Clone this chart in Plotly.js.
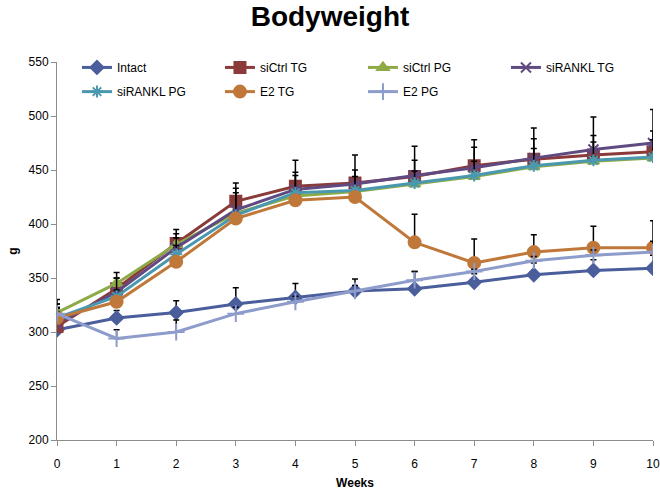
<!DOCTYPE html>
<html>
<head>
<meta charset="utf-8">
<script src="https://cdn.plot.ly/plotly-3.0.1.min.js"></script>
<style>html,body{margin:0;padding:0;background:#fff;}#chart{width:660px;height:494px;}</style>
</head>
<body>
<div id="chart"></div>
<script>
const weeks = [0,1,2,3,4,5,6,7,8,9,10];

const seriesNames = ["Intact","siCtrl TG","siCtrl PG","siRANKL TG","siRANKL PG","E2 TG","E2 PG"];

const intact      = [302,313,318,326,332,338,340,346,353,357,359];
const siCtrlTG    = [305,340,382,421,435,438,444,454,460,464,467];
const siCtrlPG    = [318,345,381,410,426,430,437,444,453,458,461];
const siRanklTG   = [308,337,378,413,432,437,445,452,461,469,475];
const siRanklPG   = [313,333,372,408,429,431,438,445,454,459,462];
const e2TG        = [313,328,365,405,422,425,383,364,374,378,378];
const e2PG        = [317,294,300,317,328,338,348,356,366,371,374];

const intactErr    = [6,7,11,15,13,11,16,8,11,10,12];
const siCtrlTGErr  = [25,15,13,17,24,26,28,24,29,18,19];
const siCtrlPGErr  = [8,5,6,4,4,4,4,4,4,4,4];
const siRanklTGErr = [18,13,13,20,16,13,14,19,18,30,31];
const siRanklPGErr = [10,6,8,21,16,13,11,13,16,17,16];
const e2TGErr      = [6,4,5,4,4,4,26,22,16,20,25];
const e2PGErr      = [5,8,11,6,5,5,8,2,4,5,10];

const values = [intact,siCtrlTG,siCtrlPG,siRanklTG,siRanklPG,e2TG,e2PG];
const errors = [intactErr,siCtrlTGErr,siCtrlPGErr,siRanklTGErr,siRanklPGErr,e2TGErr,e2PGErr];
const colors = ["#4A5E9C","#8B3A3A","#8EAA47","#604A82","#4A98B0","#C0783A","#8E9CCB"];
const symbols = ["diamond","square","triangle-up","x-thin-open","asterisk-open","circle","cross-thin-open"];
const sizes = [10,11,10,10,10,12,12];
const legendOf = ["legend","legend","legend","legend","legend2","legend2","legend2"];

const traces = seriesNames.map((name,i)=>({
  type:"scatter",
  mode:"lines+markers",
  name:name,
  legend:legendOf[i],
  x:weeks,
  y:values[i],
  line:{color:colors[i],width:3},
  marker:{symbol:symbols[i],size:sizes[i],color:colors[i],line:{color:colors[i],width:2}},
  error_y:{type:"data",symmetric:false,array:errors[i],arrayminus:weeks.map(()=>0),color:"#000",thickness:1.5,width:3}
}));

const legendBase = {orientation:"h",x:0.0335,xanchor:"left",yanchor:"top",entrywidth:98,entrywidthmode:"pixels",
  font:{size:12},bgcolor:"rgba(0,0,0,0)",itemsizing:"trace"};

const layout = {
  width:660,height:494,
  paper_bgcolor:"#fff",plot_bgcolor:"#fff",
  margin:{l:57,r:7,t:62,b:54},
  font:{family:"Liberation Sans, Arial, sans-serif",size:12,color:"#000"},
  title:{text:"<b>Bodyweight</b>",x:0.5,xanchor:"center",y:0.988,yanchor:"top",font:{size:28,color:"#000",family:"Liberation Sans, Arial, sans-serif"}},
  xaxis:{range:[0,10],tickmode:"array",tickvals:weeks,ticktext:weeks.map(String),showgrid:false,zeroline:false,
    showline:true,linecolor:"#8c8c8c",linewidth:1,ticks:"outside",ticklen:5,tickcolor:"#8c8c8c",ticklabelstandoff:8,
    title:{text:"<b>Weeks</b>",font:{size:12},standoff:8},tickfont:{size:12}},
  yaxis:{range:[200,550],dtick:50,tick0:200,showgrid:false,zeroline:false,
    showline:true,linecolor:"#8c8c8c",linewidth:1,ticks:"outside",ticklen:5,tickcolor:"#8c8c8c",
    title:{text:"<b>g</b>",font:{size:12},standoff:8},tickfont:{size:12}},
  showlegend:true,
  legend:Object.assign({},legendBase,{y:1.024}),
  legend2:Object.assign({},legendBase,{y:0.96})
};

Plotly.newPlot("chart",traces,layout,{displayModeBar:false,staticPlot:true});
</script>
</body>
</html>
